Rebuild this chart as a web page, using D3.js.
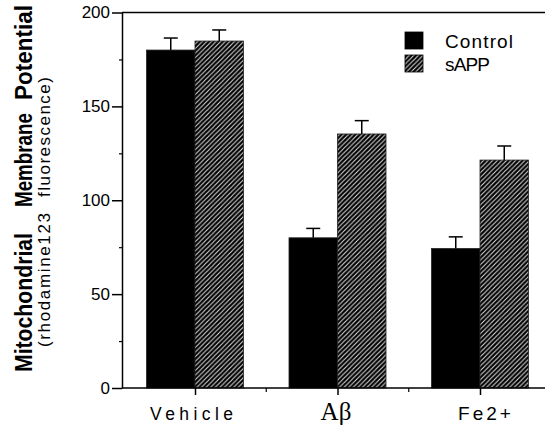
<!DOCTYPE html>
<html><head><meta charset="utf-8">
<script src="https://cdn.jsdelivr.net/npm/d3@7"></script>
<style>body{margin:0;background:#fff}svg{display:block}</style>
</head><body>
<script>
const categories = ["Vehicle", "Aβ", "Fe2+"];
const seriesNames = ["Control", "sAPP"];
const controlValues = [180, 80, 74.3];
const controlErrors = [6.4, 5, 6.2];
const sappValues = [184.8, 135.3, 121.4];
const sappErrors = [5.9, 7.1, 7.5];
const yTicks = [0, 50, 100, 150, 200];
const yMinorTicks = [25, 75, 125, 175];

const W = 545, H = 432;
const svg = d3.select("body").append("svg").attr("width", W).attr("height", H);
const defs = svg.append("defs");
const pat = defs.append("pattern").attr("id", "hatch").attr("patternUnits", "userSpaceOnUse")
  .attr("width", 4.6).attr("height", 4.6);
pat.append("rect").attr("width", 4.6).attr("height", 4.6).attr("fill", "#000");
pat.append("path").attr("d", "M-1,5.6 L5.6,-1 M-1,1 L1,-1 M3.6,5.6 L5.6,3.6")
  .attr("stroke", "#fff").attr("stroke-width", 1.1).attr("opacity", 0.85);

const x0 = 122, xEnd = 545, yTop = 12.5, yBot = 388;
const y = d3.scaleLinear().domain([0, 200]).range([yBot, yTop]);
const xc = d3.scalePoint().domain(categories).range([195, 480]);
const xs = d3.scaleBand().domain(seriesNames).range([-48.5, 48.5]);
const SANS = "Liberation Sans, Arial, Helvetica, sans-serif";

const series = [
  {name: "Control", vals: controlValues, errs: controlErrors, fill: "#000"},
  {name: "sAPP", vals: sappValues, errs: sappErrors, fill: "url(#hatch)"}
];

// top line
svg.append("line").attr("x1", x0).attr("x2", xEnd).attr("y1", yTop).attr("y2", yTop)
  .attr("stroke", "#000").attr("stroke-width", 1.5);

// bars
series.forEach(s => {
  const g = svg.append("g");
  categories.forEach((c, i) => {
    const bx = xc(c) + xs(s.name);
    g.append("rect").attr("x", bx).attr("y", y(s.vals[i]))
      .attr("width", xs.bandwidth()).attr("height", y(0) - y(s.vals[i]))
      .attr("fill", s.fill).attr("stroke", "#222").attr("stroke-width", 0.8);
    const cx = bx + xs.bandwidth() / 2;
    g.append("line").attr("x1", cx).attr("x2", cx)
      .attr("y1", y(s.vals[i])).attr("y2", y(s.vals[i] + s.errs[i]))
      .attr("stroke", "#000").attr("stroke-width", 1.5);
    g.append("line").attr("x1", cx - 7).attr("x2", cx + 7)
      .attr("y1", y(s.vals[i] + s.errs[i])).attr("y2", y(s.vals[i] + s.errs[i]))
      .attr("stroke", "#000").attr("stroke-width", 1.5);
  });
});

// y axis
const yAxis = svg.append("g").attr("transform", `translate(${x0},0)`)
  .call(d3.axisLeft(y).tickValues(yTicks).tickSize(10).tickPadding(2).tickSizeOuter(0));
yAxis.select(".domain").attr("stroke-width", 1.5);
yAxis.selectAll(".tick line").attr("stroke-width", 1.5);
yAxis.selectAll("text").attr("font-family", SANS).attr("font-size", 17).attr("fill", "#000");
const yMinor = svg.append("g").attr("transform", `translate(${x0},0)`)
  .call(d3.axisLeft(y).tickValues(yMinorTicks).tickSize(3).tickFormat(""));
yMinor.select(".domain").remove();
yMinor.selectAll(".tick line").attr("stroke-width", 1.2);

// x axis
svg.append("line").attr("x1", x0).attr("x2", xEnd).attr("y1", yBot).attr("y2", yBot)
  .attr("stroke", "#000").attr("stroke-width", 1.5);
const xAxis = svg.append("g").attr("transform", `translate(0,${yBot})`)
  .call(d3.axisBottom(xc).tickSize(7).tickFormat(""));
xAxis.select(".domain").remove();
xAxis.selectAll(".tick line").attr("stroke-width", 1.5);
const mids = [0, 1].map(i => (xc(categories[i]) + xc(categories[i + 1])) / 2);
svg.append("g").selectAll("line").data(mids).join("line")
  .attr("x1", d => d).attr("x2", d => d).attr("y1", yBot).attr("y2", yBot + 4)
  .attr("stroke", "#000").attr("stroke-width", 1.2);

// x labels
const labelY = 419.5;
svg.append("text").attr("x", 150).attr("y", labelY)
  .attr("font-family", SANS).attr("font-size", 17.5)
  .attr("textLength", 83).attr("lengthAdjust", "spacing").text(categories[0]);
svg.append("text").attr("x", 336).attr("y", labelY).attr("text-anchor", "middle")
  .attr("font-family", "Liberation Serif, Times New Roman, serif").attr("font-size", 25)
  .text(categories[1]);
svg.append("text").attr("x", 486).attr("y", labelY).attr("text-anchor", "middle")
  .attr("font-family", SANS).attr("font-size", 19).attr("letter-spacing", 3)
  .text(categories[2]);

// y axis title (words positioned individually)
const titleWords = [
  {t: "Mitochondrial", c: 302.5, len: 139},
  {t: "Membrane", c: 160, len: 94},
  {t: "Potential", c: 52.5, len: 95}
];
titleWords.forEach(w => {
  svg.append("text").attr("transform", `translate(32,${w.c}) rotate(-90)`)
    .attr("x", -w.len / 2).attr("font-family", SANS).attr("font-weight", "bold")
    .attr("font-size", 24).attr("textLength", w.len).attr("lengthAdjust", "spacingAndGlyphs")
    .attr("fill", "#000").text(w.t);
});
const subWords = [
  {t: "(rhodamine123", c: 280, len: 134},
  {t: "fluorescence)", c: 137, len: 120}
];
subWords.forEach(w => {
  svg.append("text").attr("transform", `translate(50,${w.c}) rotate(-90)`)
    .attr("x", -w.len / 2).attr("font-family", SANS)
    .attr("font-size", 17).attr("textLength", w.len).attr("lengthAdjust", "spacing")
    .attr("fill", "#000").text(w.t);
});

// legend
const legendLens = [68, 45];
series.forEach((s, i) => {
  svg.append("rect").attr("x", 405).attr("y", 32 + i * 23).attr("width", 18).attr("height", 17)
    .attr("fill", s.fill).attr("stroke", "#000").attr("stroke-width", 0.8);
  svg.append("text").attr("x", 445).attr("y", 47.5 + i * 23.5)
    .attr("font-family", SANS).attr("font-size", 19)
    .attr("textLength", legendLens[i]).attr("lengthAdjust", "spacing").text(s.name);
});
</script>
</body></html>
